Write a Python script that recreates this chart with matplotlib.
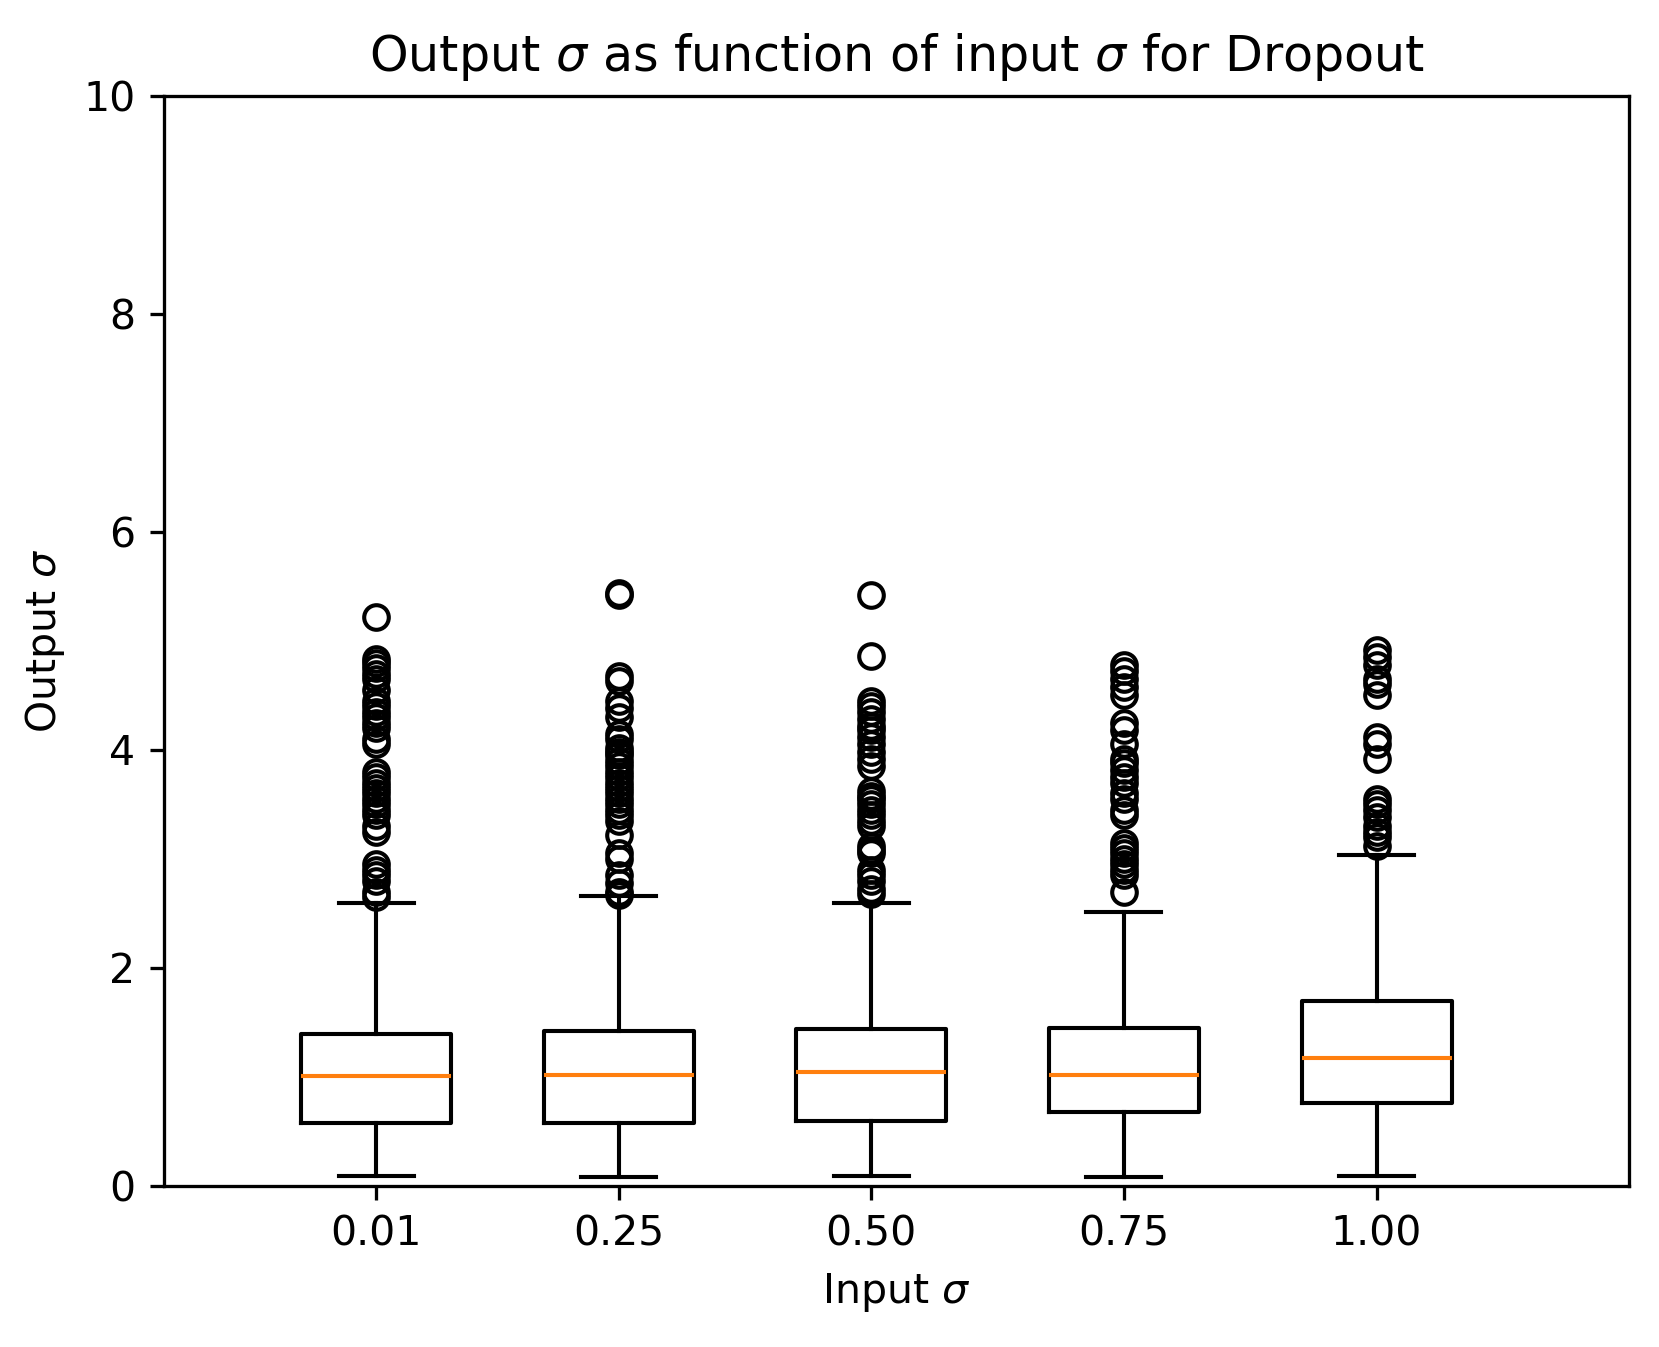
import matplotlib
matplotlib.use("Agg")
import matplotlib.pyplot as plt

labels = ['0.01', '0.25', '0.50', '0.75', '1.00']
positions = [0.01, 0.25, 0.50, 0.75, 1.00]
q1 = [0.58, 0.58, 0.60, 0.68, 0.76]
med = [1.01, 1.02, 1.05, 1.02, 1.17]
q3 = [1.39, 1.42, 1.44, 1.45, 1.70]
whislo = [0.09, 0.08, 0.09, 0.08, 0.09]
whishi = [2.60, 2.66, 2.60, 2.51, 3.04]

fliers_001 = [5.22, 4.83, 4.80, 4.75, 4.70, 4.65, 4.55, 4.45, 4.40, 4.35, 4.30, 4.25,
              4.20, 4.10, 4.05, 3.80, 3.75, 3.70, 3.65, 3.60, 3.55, 3.50, 3.45, 3.40,
              3.30, 3.25, 2.95, 2.90, 2.85, 2.80, 2.70, 2.65]
fliers_025 = [5.44, 5.42, 4.68, 4.63, 4.45, 4.38, 4.30, 4.15, 4.10, 4.02, 3.98, 3.95,
              3.90, 3.85, 3.80, 3.75, 3.70, 3.65, 3.60, 3.55, 3.50, 3.45, 3.40, 3.35,
              3.22, 3.05, 3.00, 2.85, 2.78, 2.70, 2.67]
fliers_050 = [5.42, 4.86, 4.45, 4.40, 4.35, 4.28, 4.22, 4.18, 4.12, 4.05, 3.98, 3.92,
              3.85, 3.62, 3.58, 3.55, 3.50, 3.45, 3.40, 3.35, 3.30, 3.12, 3.08, 3.05,
              2.90, 2.85, 2.80, 2.72, 2.68]
fliers_075 = [4.78, 4.72, 4.65, 4.58, 4.50, 4.25, 4.18, 4.05, 3.92, 3.88, 3.82, 3.75,
              3.70, 3.60, 3.55, 3.45, 3.40, 3.15, 3.10, 3.05, 3.00, 2.95, 2.90, 2.85, 2.70]
fliers_100 = [4.92, 4.85, 4.78, 4.65, 4.60, 4.50, 4.12, 4.05, 3.92, 3.55, 3.50, 3.45,
              3.38, 3.30, 3.25, 3.20, 3.12]
fliers = [fliers_001, fliers_025, fliers_050, fliers_075, fliers_100]

DPI = 295
fig = plt.figure(figsize=(1659 / DPI, 1347 / DPI), dpi=DPI)
ax = fig.add_axes([0.0989, 0.1195, 0.982 - 0.0989, 0.929 - 0.1195])

stats = []
for i in range(len(labels)):
    stats.append(dict(q1=q1[i], med=med[i], q3=q3[i], whislo=whislo[i],
                      whishi=whishi[i], fliers=fliers[i], label=labels[i]))

ax.bxp(stats, positions=positions, widths=0.1485)
ax.set_xticks(positions)
ax.set_xticklabels(labels)
ax.set_xlim(-0.2, 1.25)
ax.set_ylim(0, 10)
ax.set_yticks([0, 2, 4, 6, 8, 10])
ax.set_xlabel(r'Input $\sigma$')
ax.set_ylabel(r'Output $\sigma$')
ax.set_title(r'Output $\sigma$ as function of input $\sigma$ for Dropout')

fig.savefig('out.png', dpi=DPI)
